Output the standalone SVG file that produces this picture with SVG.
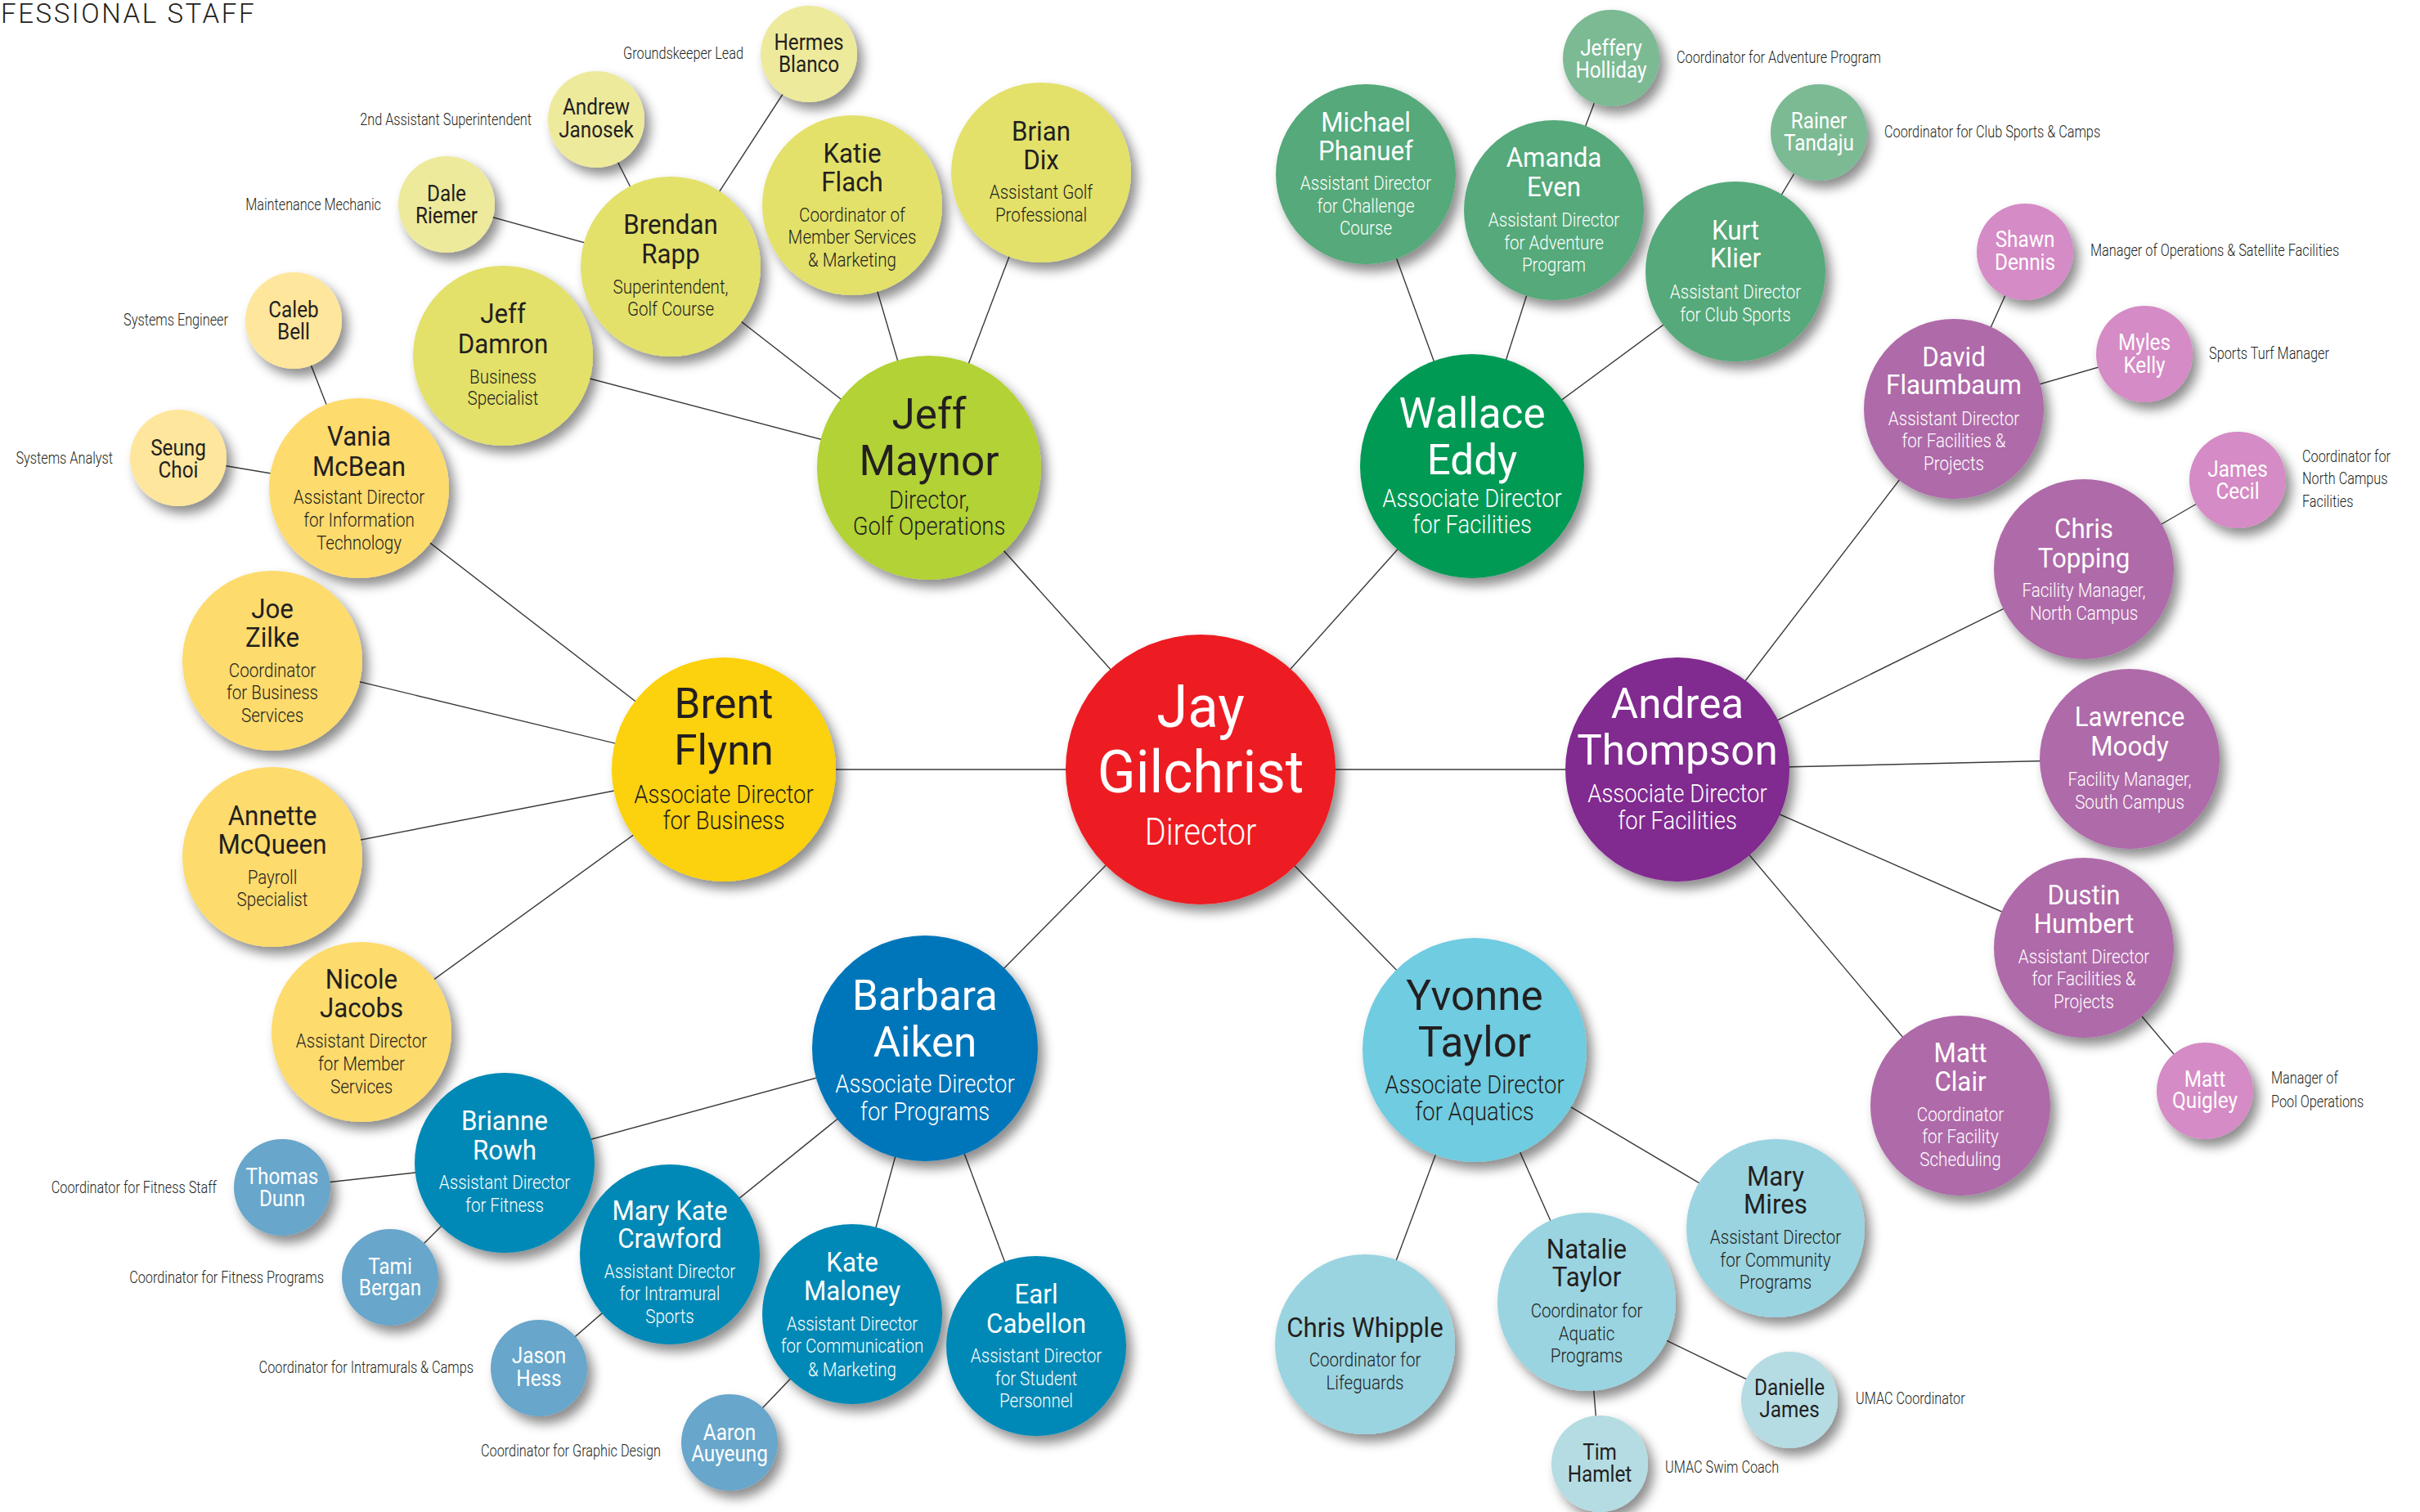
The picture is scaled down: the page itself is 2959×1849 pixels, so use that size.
<svg xmlns="http://www.w3.org/2000/svg" width="2959" height="1849" viewBox="0 0 2959 1849">
<defs>
<filter id="sh" x="-30%" y="-30%" width="170%" height="170%">
<feDropShadow dx="7" dy="9" stdDeviation="7" flood-color="#000" flood-opacity="0.45"/>
</filter>
</defs>
<style>
text{font-family:Roboto,'Liberation Sans',Arial,sans-serif;text-anchor:middle}
.c{filter:url(#sh)}
.ln{stroke:#3a3a3a;stroke-width:1.4;fill:none}
.nj{font-size:72px;transform:scaleX(.956)}
.tj{font-size:46px;font-weight:300;transform:scaleX(.86)}
.nb{font-size:52px;transform:scaleX(.984)}
.tb{font-size:31.5px;font-weight:300;transform:scaleX(.87)}
.nm{font-size:34px;transform:scaleX(.92)}
.tm{font-size:24.5px;font-weight:300;transform:scaleX(.84)}
.ns{font-size:27px;transform:scaleX(.9)}
.lb{font-size:21px;font-weight:300;fill:#231f20;transform:scaleX(.775)}
.e{text-anchor:end}.s{text-anchor:start}
.dk{fill:#231f20}.wh{fill:#fff}
.ttl{font-size:33px;font-weight:300;fill:#231f20;text-anchor:start;letter-spacing:2.6px}
.red{fill:#ED1C24}
.lime{fill:#B2D235}.golf{fill:#E3E16B}.golfs{fill:#EEEA9C}
.gold{fill:#FCD107}.bus{fill:#FDDB6D}.buss{fill:#FEE69C}
.grn{fill:#009A55}.grnm{fill:#55A97A}.grns{fill:#7BBA94}
.pur{fill:#812990}.purm{fill:#AF6BA9}.purs{fill:#D58BC5}
.blu{fill:#0076BA}.blum{fill:#0089B6}.blus{fill:#68A6CB}
.cya{fill:#6FCCE0}.cyam{fill:#9AD4E1}.cyas{fill:#B5DCE3}
</style>
<rect width="2959" height="1849" fill="#fff"/>
<text class="ttl" x="1" y="28">FESSIONAL STAFF</text>

<g id="connectors">
<line class="ln" x1="1468" y1="941" x2="1136" y2="572"/>
<line class="ln" x1="1468" y1="941" x2="1800" y2="570"/>
<line class="ln" x1="1468" y1="941" x2="885" y2="941"/>
<line class="ln" x1="1468" y1="941" x2="2051" y2="941"/>
<line class="ln" x1="1468" y1="941" x2="1131" y2="1282"/>
<line class="ln" x1="1468" y1="941" x2="1803" y2="1284"/>
<line class="ln" x1="1136" y1="572" x2="615" y2="435"/>
<line class="ln" x1="1136" y1="572" x2="820" y2="326"/>
<line class="ln" x1="1136" y1="572" x2="1042" y2="251"/>
<line class="ln" x1="1136" y1="572" x2="1273" y2="211"/>
<line class="ln" x1="820" y1="326" x2="729" y2="146"/>
<line class="ln" x1="820" y1="326" x2="546" y2="250"/>
<line class="ln" x1="820" y1="326" x2="989" y2="66"/>
<line class="ln" x1="885" y1="941" x2="439" y2="597"/>
<line class="ln" x1="885" y1="941" x2="333" y2="808"/>
<line class="ln" x1="885" y1="941" x2="333" y2="1048"/>
<line class="ln" x1="885" y1="941" x2="442" y2="1262"/>
<line class="ln" x1="439" y1="597" x2="359" y2="392"/>
<line class="ln" x1="439" y1="597" x2="218" y2="560"/>
<line class="ln" x1="1800" y1="570" x2="1670" y2="213"/>
<line class="ln" x1="1800" y1="570" x2="1900" y2="257"/>
<line class="ln" x1="1800" y1="570" x2="2122" y2="332"/>
<line class="ln" x1="1900" y1="257" x2="1970" y2="71"/>
<line class="ln" x1="2122" y1="332" x2="2224" y2="162"/>
<line class="ln" x1="2051" y1="941" x2="2389" y2="500"/>
<line class="ln" x1="2051" y1="941" x2="2548" y2="696"/>
<line class="ln" x1="2051" y1="941" x2="2604" y2="928"/>
<line class="ln" x1="2051" y1="941" x2="2548" y2="1159"/>
<line class="ln" x1="2051" y1="941" x2="2397" y2="1352"/>
<line class="ln" x1="2389" y1="500" x2="2476" y2="308"/>
<line class="ln" x1="2389" y1="500" x2="2622" y2="433"/>
<line class="ln" x1="2548" y1="696" x2="2736" y2="587"/>
<line class="ln" x1="2548" y1="1159" x2="2696" y2="1334"/>
<line class="ln" x1="1131" y1="1282" x2="617" y2="1422"/>
<line class="ln" x1="1131" y1="1282" x2="819" y2="1534"/>
<line class="ln" x1="1131" y1="1282" x2="1042" y2="1607"/>
<line class="ln" x1="1131" y1="1282" x2="1267" y2="1646"/>
<line class="ln" x1="617" y1="1422" x2="345" y2="1452"/>
<line class="ln" x1="617" y1="1422" x2="477" y2="1562"/>
<line class="ln" x1="819" y1="1534" x2="659" y2="1673"/>
<line class="ln" x1="1042" y1="1607" x2="892" y2="1764"/>
<line class="ln" x1="1803" y1="1284" x2="1669" y2="1644"/>
<line class="ln" x1="1803" y1="1284" x2="1940" y2="1592"/>
<line class="ln" x1="1803" y1="1284" x2="2171" y2="1502"/>
<line class="ln" x1="1940" y1="1592" x2="2188" y2="1712"/>
<line class="ln" x1="1940" y1="1592" x2="1956" y2="1790"/>
</g>

<g id="nodes">
<g id="n-jay-gilchrist" transform="translate(1468 941)"><circle class="c red" r="165"/><text class="nj wh"><tspan x="0" y="-52">Jay</tspan><tspan x="0" y="28">Gilchrist</tspan></text><text class="tj wh"><tspan x="0" y="92">Director</tspan></text></g>

<g id="n-jeff-maynor" transform="translate(1136 572)"><circle class="c lime" r="137"/><text class="nb dk"><tspan x="0" y="-48">Jeff</tspan><tspan x="0" y="9">Maynor</tspan></text><text class="tb dk"><tspan x="0" y="50">Director,</tspan><tspan x="0" y="82">Golf Operations</tspan></text></g>
<g id="n-wallace-eddy" transform="translate(1800 570)"><circle class="c grn" r="137"/><text class="nb wh"><tspan x="0" y="-47">Wallace</tspan><tspan x="0" y="10">Eddy</tspan></text><text class="tb wh"><tspan x="0" y="50">Associate Director</tspan><tspan x="0" y="82">for Facilities</tspan></text></g>
<g id="n-brent-flynn" transform="translate(885 941)"><circle class="c gold" r="137"/><text class="nb dk"><tspan x="0" y="-63">Brent</tspan><tspan x="0" y="-6">Flynn</tspan></text><text class="tb dk"><tspan x="0" y="41">Associate Director</tspan><tspan x="0" y="73">for Business</tspan></text></g>
<g id="n-andrea-thompson" transform="translate(2051 941)"><circle class="c pur" r="137"/><text class="nb wh"><tspan x="0" y="-63">Andrea</tspan><tspan x="0" y="-6">Thompson</tspan></text><text class="tb wh"><tspan x="0" y="40">Associate Director</tspan><tspan x="0" y="73">for Facilities</tspan></text></g>
<g id="n-barbara-aiken" transform="translate(1131 1282)"><circle class="c blu" r="138"/><text class="nb wh"><tspan x="0" y="-47">Barbara</tspan><tspan x="0" y="10">Aiken</tspan></text><text class="tb wh"><tspan x="0" y="54">Associate Director</tspan><tspan x="0" y="88">for Programs</tspan></text></g>
<g id="n-yvonne-taylor" transform="translate(1803 1284)"><circle class="c cya" r="137"/><text class="nb dk"><tspan x="0" y="-49">Yvonne</tspan><tspan x="0" y="8">Taylor</tspan></text><text class="tb dk"><tspan x="0" y="53">Associate Director</tspan><tspan x="0" y="86">for Aquatics</tspan></text></g>

<g id="n-jeff-damron" transform="translate(615 435)"><circle class="c golf" r="110"/><text class="nm dk"><tspan x="0" y="-40">Jeff</tspan><tspan x="0" y="-3">Damron</tspan></text><text class="tm dk"><tspan x="0" y="34">Business</tspan><tspan x="0" y="60">Specialist</tspan></text></g>
<g id="n-brendan-rapp" transform="translate(820 326)"><circle class="c golf" r="110"/><text class="nm dk"><tspan x="0" y="-40">Brendan</tspan><tspan x="0" y="-4">Rapp</tspan></text><text class="tm dk"><tspan x="0" y="33">Superintendent,</tspan><tspan x="0" y="60">Golf Course</tspan></text></g>
<g id="n-katie-flach" transform="translate(1042 251)"><circle class="c golf" r="110"/><text class="nm dk"><tspan x="0" y="-52">Katie</tspan><tspan x="0" y="-17">Flach</tspan></text><text class="tm dk"><tspan x="0" y="20">Coordinator of</tspan><tspan x="0" y="47">Member Services</tspan><tspan x="0" y="75">&amp; Marketing</tspan></text></g>
<g id="n-brian-dix" transform="translate(1273 211)"><circle class="c golf" r="110"/><text class="nm dk"><tspan x="0" y="-39">Brian</tspan><tspan x="0" y="-4">Dix</tspan></text><text class="tm dk"><tspan x="0" y="32">Assistant Golf</tspan><tspan x="0" y="60">Professional</tspan></text></g>
<g id="n-andrew-janosek" transform="translate(729 146)"><circle class="c golfs" r="59"/><text class="ns dk"><tspan x="0" y="-6">Andrew</tspan><tspan x="0" y="22">Janosek</tspan></text></g>
<g id="n-dale-riemer" transform="translate(546 250)"><circle class="c golfs" r="59"/><text class="ns dk"><tspan x="0" y="-4">Dale</tspan><tspan x="0" y="23">Riemer</tspan></text></g>
<g id="n-hermes-blanco" transform="translate(989 66)"><circle class="c golfs" r="59"/><text class="ns dk"><tspan x="0" y="-5">Hermes</tspan><tspan x="0" y="22">Blanco</tspan></text></g>

<g id="n-vania-mcbean" transform="translate(439 597)"><circle class="c bus" r="110"/><text class="nm dk"><tspan x="0" y="-52">Vania</tspan><tspan x="0" y="-15">McBean</tspan></text><text class="tm dk"><tspan x="0" y="19">Assistant Director</tspan><tspan x="0" y="47">for Information</tspan><tspan x="0" y="75">Technology</tspan></text></g>
<g id="n-joe-zilke" transform="translate(333 808)"><circle class="c bus" r="110"/><text class="nm dk"><tspan x="0" y="-52">Joe</tspan><tspan x="0" y="-17">Zilke</tspan></text><text class="tm dk"><tspan x="0" y="20">Coordinator</tspan><tspan x="0" y="47">for Business</tspan><tspan x="0" y="75">Services</tspan></text></g>
<g id="n-annette-mcqueen" transform="translate(333 1048)"><circle class="c bus" r="110"/><text class="nm dk"><tspan x="0" y="-39">Annette</tspan><tspan x="0" y="-4">McQueen</tspan></text><text class="tm dk"><tspan x="0" y="33">Payroll</tspan><tspan x="0" y="60">Specialist</tspan></text></g>
<g id="n-nicole-jacobs" transform="translate(442 1262)"><circle class="c bus" r="110"/><text class="nm dk"><tspan x="0" y="-53">Nicole</tspan><tspan x="0" y="-18">Jacobs</tspan></text><text class="tm dk"><tspan x="0" y="19">Assistant Director</tspan><tspan x="0" y="47">for Member</tspan><tspan x="0" y="75">Services</tspan></text></g>
<g id="n-caleb-bell" transform="translate(359 392)"><circle class="c buss" r="59"/><text class="ns dk"><tspan x="0" y="-4">Caleb</tspan><tspan x="0" y="23">Bell</tspan></text></g>
<g id="n-seung-choi" transform="translate(218 560)"><circle class="c buss" r="59"/><text class="ns dk"><tspan x="0" y="-3">Seung</tspan><tspan x="0" y="24">Choi</tspan></text></g>

<g id="n-michael-phanuef" transform="translate(1670 213)"><circle class="c grnm" r="110"/><text class="nm wh"><tspan x="0" y="-52">Michael</tspan><tspan x="0" y="-17">Phanuef</tspan></text><text class="tm wh"><tspan x="0" y="19">Assistant Director</tspan><tspan x="0" y="47">for Challenge</tspan><tspan x="0" y="74">Course</tspan></text></g>
<g id="n-amanda-even" transform="translate(1900 257)"><circle class="c grnm" r="110"/><text class="nm wh"><tspan x="0" y="-53">Amanda</tspan><tspan x="0" y="-17">Even</tspan></text><text class="tm wh"><tspan x="0" y="20">Assistant Director</tspan><tspan x="0" y="48">for Adventure</tspan><tspan x="0" y="75">Program</tspan></text></g>
<g id="n-kurt-klier" transform="translate(2122 332)"><circle class="c grnm" r="110"/><text class="nm wh"><tspan x="0" y="-39">Kurt</tspan><tspan x="0" y="-5">Klier</tspan></text><text class="tm wh"><tspan x="0" y="33">Assistant Director</tspan><tspan x="0" y="61">for Club Sports</tspan></text></g>
<g id="n-jeffery-holliday" transform="translate(1970 71)"><circle class="c grns" r="59"/><text class="ns wh"><tspan x="0" y="-3">Jeffery</tspan><tspan x="0" y="24">Holliday</tspan></text></g>
<g id="n-rainer-tandaju" transform="translate(2224 162)"><circle class="c grns" r="59"/><text class="ns wh"><tspan x="0" y="-5">Rainer</tspan><tspan x="0" y="22">Tandaju</tspan></text></g>

<g id="n-david-flaumbaum" transform="translate(2389 500)"><circle class="c purm" r="110"/><text class="nm wh"><tspan x="0" y="-52">David</tspan><tspan x="0" y="-18">Flaumbaum</tspan></text><text class="tm wh"><tspan x="0" y="20">Assistant Director</tspan><tspan x="0" y="47">for Facilities &amp;</tspan><tspan x="0" y="75">Projects</tspan></text></g>
<g id="n-chris-topping" transform="translate(2548 696)"><circle class="c purm" r="110"/><text class="nm wh"><tspan x="0" y="-38">Chris</tspan><tspan x="0" y="-2">Topping</tspan></text><text class="tm wh"><tspan x="0" y="34">Facility Manager,</tspan><tspan x="0" y="62">North Campus</tspan></text></g>
<g id="n-lawrence-moody" transform="translate(2604 928)"><circle class="c purm" r="110"/><text class="nm wh"><tspan x="0" y="-40">Lawrence</tspan><tspan x="0" y="-4">Moody</tspan></text><text class="tm wh"><tspan x="0" y="33">Facility Manager,</tspan><tspan x="0" y="61">South Campus</tspan></text></g>
<g id="n-dustin-humbert" transform="translate(2548 1159)"><circle class="c purm" r="110"/><text class="nm wh"><tspan x="0" y="-53">Dustin</tspan><tspan x="0" y="-18">Humbert</tspan></text><text class="tm wh"><tspan x="0" y="19">Assistant Director</tspan><tspan x="0" y="46">for Facilities &amp;</tspan><tspan x="0" y="74">Projects</tspan></text></g>
<g id="n-matt-clair" transform="translate(2397 1352)"><circle class="c purm" r="110"/><text class="nm wh"><tspan x="0" y="-53">Matt</tspan><tspan x="0" y="-18">Clair</tspan></text><text class="tm wh"><tspan x="0" y="19">Coordinator</tspan><tspan x="0" y="46">for Facility</tspan><tspan x="0" y="74">Scheduling</tspan></text></g>
<g id="n-shawn-dennis" transform="translate(2476 308)"><circle class="c purs" r="59"/><text class="ns wh"><tspan x="0" y="-6">Shawn</tspan><tspan x="0" y="22">Dennis</tspan></text></g>
<g id="n-myles-kelly" transform="translate(2622 433)"><circle class="c purs" r="59"/><text class="ns wh"><tspan x="0" y="-5">Myles</tspan><tspan x="0" y="23">Kelly</tspan></text></g>
<g id="n-james-cecil" transform="translate(2736 587)"><circle class="c purs" r="59"/><text class="ns wh"><tspan x="0" y="-4">James</tspan><tspan x="0" y="23">Cecil</tspan></text></g>
<g id="n-matt-quigley" transform="translate(2696 1334)"><circle class="c purs" r="59"/><text class="ns wh"><tspan x="0" y="-5">Matt</tspan><tspan x="0" y="21">Quigley</tspan></text></g>

<g id="n-brianne-rowh" transform="translate(617 1422)"><circle class="c blum" r="110"/><text class="nm wh"><tspan x="0" y="-40">Brianne</tspan><tspan x="0" y="-4">Rowh</tspan></text><text class="tm wh"><tspan x="0" y="32">Assistant Director</tspan><tspan x="0" y="60">for Fitness</tspan></text></g>
<g id="n-mary-kate-crawford" transform="translate(819 1534)"><circle class="c blum" r="110"/><text class="nm wh"><tspan x="0" y="-42">Mary Kate</tspan><tspan x="0" y="-8">Crawford</tspan></text><text class="tm wh"><tspan x="0" y="29">Assistant Director</tspan><tspan x="0" y="56">for Intramural</tspan><tspan x="0" y="84">Sports</tspan></text></g>
<g id="n-kate-maloney" transform="translate(1042 1607)"><circle class="c blum" r="110"/><text class="nm wh"><tspan x="0" y="-52">Kate</tspan><tspan x="0" y="-17">Maloney</tspan></text><text class="tm wh"><tspan x="0" y="20">Assistant Director</tspan><tspan x="0" y="47">for Communication</tspan><tspan x="0" y="76">&amp; Marketing</tspan></text></g>
<g id="n-earl-cabellon" transform="translate(1267 1646)"><circle class="c blum" r="110"/><text class="nm wh"><tspan x="0" y="-52">Earl</tspan><tspan x="0" y="-16">Cabellon</tspan></text><text class="tm wh"><tspan x="0" y="20">Assistant Director</tspan><tspan x="0" y="48">for Student</tspan><tspan x="0" y="75">Personnel</tspan></text></g>
<g id="n-thomas-dunn" transform="translate(345 1452)"><circle class="c blus" r="59"/><text class="ns wh"><tspan x="0" y="-4">Thomas</tspan><tspan x="0" y="23">Dunn</tspan></text></g>
<g id="n-tami-bergan" transform="translate(477 1562)"><circle class="c blus" r="59"/><text class="ns wh"><tspan x="0" y="-4">Tami</tspan><tspan x="0" y="22">Bergan</tspan></text></g>
<g id="n-jason-hess" transform="translate(659 1673)"><circle class="c blus" r="59"/><text class="ns wh"><tspan x="0" y="-6">Jason</tspan><tspan x="0" y="22">Hess</tspan></text></g>
<g id="n-aaron-auyeung" transform="translate(892 1764)"><circle class="c blus" r="59"/><text class="ns wh"><tspan x="0" y="-3">Aaron</tspan><tspan x="0" y="23">Auyeung</tspan></text></g>

<g id="n-chris-whipple" transform="translate(1669 1644)"><circle class="c cyam" r="110"/><text class="nm dk"><tspan x="0" y="-9">Chris Whipple</tspan></text><text class="tm dk"><tspan x="0" y="27">Coordinator for</tspan><tspan x="0" y="55">Lifeguards</tspan></text></g>
<g id="n-natalie-taylor" transform="translate(1940 1592)"><circle class="c cyam" r="109"/><text class="nm dk"><tspan x="0" y="-53">Natalie</tspan><tspan x="0" y="-19">Taylor</tspan></text><text class="tm dk"><tspan x="0" y="19">Coordinator for</tspan><tspan x="0" y="47">Aquatic</tspan><tspan x="0" y="74">Programs</tspan></text></g>
<g id="n-mary-mires" transform="translate(2171 1502)"><circle class="c cyam" r="109"/><text class="nm dk"><tspan x="0" y="-52">Mary</tspan><tspan x="0" y="-18">Mires</tspan></text><text class="tm dk"><tspan x="0" y="19">Assistant Director</tspan><tspan x="0" y="47">for Community</tspan><tspan x="0" y="74">Programs</tspan></text></g>
<g id="n-danielle-james" transform="translate(2188 1712)"><circle class="c cyas" r="59"/><text class="ns dk"><tspan x="0" y="-6">Danielle</tspan><tspan x="0" y="21">James</tspan></text></g>
<g id="n-tim-hamlet" transform="translate(1956 1790)"><circle class="c cyas" r="59"/><text class="ns dk"><tspan x="0" y="-5">Tim</tspan><tspan x="0" y="22">Hamlet</tspan></text></g>
</g>

<g id="labels">
<g transform="translate(909 72)"><text class="lb e">Groundskeeper Lead</text></g>
<g transform="translate(650 153)"><text class="lb e">2nd Assistant Superintendent</text></g>
<g transform="translate(466 257)"><text class="lb e">Maintenance Mechanic</text></g>
<g transform="translate(279 398)"><text class="lb e">Systems Engineer</text></g>
<g transform="translate(138 567)"><text class="lb e">Systems Analyst</text></g>
<g transform="translate(2050 77)"><text class="lb s">Coordinator for Adventure Program</text></g>
<g transform="translate(2304 168)"><text class="lb s">Coordinator for Club Sports &amp; Camps</text></g>
<g transform="translate(2556 313)"><text class="lb s">Manager of Operations &amp; Satellite Facilities</text></g>
<g transform="translate(2701 439)"><text class="lb s">Sports Turf Manager</text></g>
<g transform="translate(2815 0)"><text class="lb s"><tspan x="0" y="565">Coordinator for</tspan><tspan x="0" y="592">North Campus</tspan><tspan x="0" y="620">Facilities</tspan></text></g>
<g transform="translate(2777 0)"><text class="lb s"><tspan x="0" y="1325">Manager of</tspan><tspan x="0" y="1354">Pool Operations</tspan></text></g>
<g transform="translate(2269 1717)"><text class="lb s">UMAC Coordinator</text></g>
<g transform="translate(2036 1801)"><text class="lb s">UMAC Swim Coach</text></g>
<g transform="translate(588 1781)"><text class="lb s">Coordinator for Graphic Design</text></g>
<g transform="translate(579 1679)"><text class="lb e">Coordinator for Intramurals &amp; Camps</text></g>
<g transform="translate(396 1569)"><text class="lb e">Coordinator for Fitness Programs</text></g>
<g transform="translate(265 1459)"><text class="lb e">Coordinator for Fitness Staff</text></g>
</g>
</svg>
